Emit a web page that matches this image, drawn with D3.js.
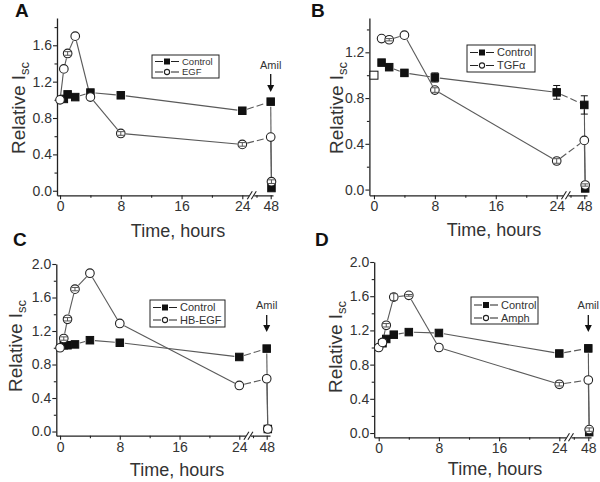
<!DOCTYPE html>
<html><head><meta charset="utf-8">
<script src="https://cdn.jsdelivr.net/npm/d3@7"></script>
<style>
body{margin:0;background:#fff}
svg{display:block}
text{font-family:"Liberation Sans",Arial,Helvetica,sans-serif;font-weight:normal}
</style>
</head><body>
<svg id="chart" width="600" height="482"></svg>
<script>
// ---------------- DATA ----------------
const panelLetters = ["A", "B", "C", "D"];
const controlName = "Control";
const treatmentNames = ["EGF", "TGFα", "HB-EGF", "Amph"];
const xMajorTicks = [0, 8, 16, 24, 48];
const xMinorTicks = [4, 12, 20, 36];
const yMajorTicksA = [0, 0.4, 0.8, 1.2, 1.6];
const yMajorTicksB = [0, 0.4, 0.8, 1.2];
const yMajorTicksCD = [0, 0.4, 0.8, 1.2, 1.6, 2.0];
const amilLabel = "Amil";
// 48.1 = reading taken after amiloride addition at 48 h

// Panel A
const timeControlA = [0.5, 1, 2, 4, 8, 24, 48, 48.1];
const controlA     = [1.01, 1.06, 1.03, 1.08, 1.05, 0.88, 0.98, 0.03];
const errControlA  = [0, 0, 0, 0, 0.02, 0, 0, 0];
const timeEgfA     = [0, 0.5, 1, 2, 4, 8, 24, 48, 48.1];
const egfA         = [1.00, 1.34, 1.51, 1.70, 1.03, 0.63, 0.51, 0.59, 0.10];
const errEgfA      = [0, 0, 0.02, 0, 0, 0.02, 0.02, 0, 0.02];

// Panel B
const timeStartB   = [0];
const startB       = [1.00];
const timeControlB = [1, 2, 4, 8, 24, 48, 48.1];
const controlB     = [1.11, 1.07, 1.02, 0.98, 0.85, 0.74, 0.01];
const errControlB  = [0.01, 0.01, 0.03, 0.04, 0.06, 0.08, 0];
const timeTgfB     = [1, 2, 4, 8, 24, 48, 48.1];
const tgfB         = [1.32, 1.31, 1.35, 0.87, 0.25, 0.43, 0.04];
const errTgfB      = [0, 0.01, 0, 0.02, 0.02, 0, 0.01];

// Panel C
const timeControlC = [0.5, 1, 2, 4, 8, 24, 48, 48.1];
const controlC     = [1.03, 1.03, 1.04, 1.09, 1.06, 0.89, 0.99, 0.03];
const errControlC  = [0, 0, 0, 0, 0.03, 0, 0, 0];
const timeHbC      = [0, 0.5, 1, 2, 4, 8, 24, 48, 48.1];
const hbC          = [1.00, 1.11, 1.34, 1.70, 1.89, 1.29, 0.55, 0.63, 0.03];
const errHbC       = [0, 0.02, 0.02, 0.02, 0, 0, 0, 0, 0];

// Panel D
const timeControlD = [0.5, 1, 2, 4, 8, 24, 48, 48.1];
const controlD     = [1.05, 1.10, 1.15, 1.18, 1.17, 0.93, 0.99, 0.01];
const errControlD  = [0, 0, 0, 0, 0, 0.02, 0.04, 0];
const timeAmphD    = [0, 0.5, 1, 2, 4, 8, 24, 48, 48.1];
const amphD        = [1.00, 1.06, 1.26, 1.59, 1.61, 1.00, 0.57, 0.62, 0.04];
const errAmphD     = [0, 0, 0.02, 0.04, 0.01, 0, 0.02, 0, 0.02];

// ---------------- LAYOUT ----------------
const layouts = [
  {xd:[-0.4,24,48,48.3], xr:[57,242.3,270.7,273], yd:[-0.05,1.9], yr:[195.3,18], yt:yMajorTicksA,
   letter:[15,17], xlab:[178,236.5], ylab:[25,108],
   legend:{x:152,y:55,w:67,h:23,rows:[61.5,72],fs:9.5}, amil:{ty:69,a0:74,a1:92},
   control:[timeControlA,controlA,errControlA], treat:[timeEgfA,egfA,errEgfA]},
  {xd:[-0.6,24,48,48.3], xr:[369.4,556.7,584.3,587], yd:[-0.05,1.5], yr:[195.3,18], yt:yMajorTicksB,
   letter:[311,17], xlab:[494,235.5], ylab:[343,108],
   legend:{x:467,y:45,w:68,h:27,rows:[52.5,65.5],fs:11}, amil:null,
   control:[timeControlB,controlB,errControlB], treat:[timeTgfB,tgfB,errTgfB], start:[timeStartB,startB]},
  {xd:[-0.5,24,48,48.3], xr:[56.3,239.3,266.7,270], yd:[-0.05,2.0], yr:[435.7,264], yt:yMajorTicksCD,
   letter:[13,246], xlab:[177,476], ylab:[21.5,346],
   legend:{x:150,y:300,w:75,h:27,rows:[307.5,320],fs:11}, amil:{ty:309,a0:315,a1:332},
   control:[timeControlC,controlC,errControlC], treat:[timeHbC,hbC,errHbC]},
  {xd:[-0.6,24,48,48.3], xr:[374.2,559.3,588.3,591], yd:[-0.05,2.0], yr:[437.3,262], yt:yMajorTicksCD,
   letter:[315,246], xlab:[495,475], ylab:[341.5,347],
   legend:{x:471,y:297,w:67,h:27,rows:[305,318],fs:11}, amil:{ty:309,a0:315,a1:332},
   control:[timeControlD,controlD,errControlD], treat:[timeAmphD,amphD,errAmphD]}
];

const svg = d3.select("#chart");
const AX = "#222", LN = "#5a5a5a", TX = "#333";

function gappedSegments(g, pts, x, y) {
  for (let i = 0; i < pts.length - 1; i++) {
    const a = pts[i], b = pts[i+1];
    let x1 = x(a.t), y1 = y(a.v), x2 = x(b.t), y2 = y(b.v);
    const dx = x2 - x1, dy = y2 - y1, L = Math.hypot(dx, dy);
    const gap = 5;
    if (L <= 2*gap + 1) continue;
    const ux = dx / L, uy = dy / L;
    g.append("line")
      .attr("x1", x1 + ux*gap).attr("y1", y1 + uy*gap)
      .attr("x2", x2 - ux*gap).attr("y2", y2 - uy*gap)
      .attr("stroke", LN).attr("stroke-width", 1.1)
      .attr("stroke-dasharray", (a.t === 24 && b.t === 48) ? "7,3" : null);
  }
}

function squareMark(g, cx, cy, s, filled) {
  g.append("rect").attr("x", cx - s/2).attr("y", cy - s/2).attr("width", s).attr("height", s)
    .attr("fill", filled ? "#111" : "#fff").attr("stroke", "#111").attr("stroke-width", 1);
}
function circleMark(g, cx, cy, r) {
  g.append("circle").attr("cx", cx).attr("cy", cy).attr("r", r)
    .attr("fill", "#fff").attr("stroke", "#222").attr("stroke-width", 1.1);
}
function errBars(g, pts, x, y, color) {
  pts.forEach(p => {
    if (!p.e) return;
    const cx = x(p.t), y1 = y(p.v - p.e), y2 = y(p.v + p.e);
    g.append("line").attr("x1", cx).attr("x2", cx).attr("y1", y1).attr("y2", y2)
      .attr("stroke", color).attr("stroke-width", 1);
    [y1, y2].forEach(yy => g.append("line").attr("x1", cx - 3.5).attr("x2", cx + 3.5)
      .attr("y1", yy).attr("y2", yy).attr("stroke", color).attr("stroke-width", 1));
  });
}

layouts.forEach((L, i) => {
  const g = svg.append("g");
  const x = d3.scaleLinear().domain(L.xd).range(L.xr);
  const y = d3.scaleLinear().domain(L.yd).range(L.yr);
  const y0 = L.yr[0], x0 = L.xr[0];

  // panel letter
  g.append("text").attr("x", L.letter[0]).attr("y", L.letter[1]).text(panelLetters[i])
    .attr("font-size", 19).style("font-weight", "bold").attr("fill", "#111");

  // y axis
  const yAxis = d3.axisLeft(y).tickValues(L.yt).tickFormat(d3.format(".1f")).tickSize(4).tickPadding(1).tickSizeOuter(0);
  g.append("g").attr("transform", `translate(${x0},0)`).call(yAxis);
  const yMinor = L.yt.map(v => v + 0.2).filter(v => v < L.yd[1]);
  g.append("g").attr("transform", `translate(${x0},0)`)
    .call(d3.axisLeft(y).tickValues(yMinor).tickFormat("").tickSize(2.5).tickSizeOuter(0))
    .call(s => s.select(".domain").remove());

  // x axis
  const xAxis = d3.axisBottom(x).tickValues(xMajorTicks).tickFormat(d3.format("d")).tickSize(4).tickPadding(2).tickSizeOuter(0);
  g.append("g").attr("transform", `translate(0,${y0})`).call(xAxis);
  g.append("g").attr("transform", `translate(0,${y0})`)
    .call(d3.axisBottom(x).tickValues(xMinorTicks).tickFormat("").tickSize(2.5).tickSizeOuter(0))
    .call(s => s.select(".domain").remove());
  g.selectAll(".domain").attr("stroke", AX).attr("stroke-width", 1.3);
  g.selectAll(".tick line").attr("stroke", AX).attr("stroke-width", 1.1);
  g.selectAll(".tick text").attr("font-size", 14).attr("fill", TX)
    .attr("font-family", '"Liberation Sans",Arial,sans-serif');

  // axis break
  const bx = x(32);
  g.append("rect").attr("x", bx - 2.5).attr("y", y0 - 2).attr("width", 5).attr("height", 4).attr("fill", "#fff");
  [-2, 2].forEach(o => g.append("line")
    .attr("x1", bx + o - 2.5).attr("y1", y0 + 4).attr("x2", bx + o + 2.5).attr("y2", y0 - 4)
    .attr("stroke", AX).attr("stroke-width", 1.1));

  // axis titles
  g.append("text").attr("x", L.xlab[0]).attr("y", L.xlab[1]).attr("text-anchor", "middle")
    .attr("font-size", 18).attr("fill", TX).text("Time, hours");
  const yl = g.append("text").attr("transform", `translate(${L.ylab[0]},${L.ylab[1]}) rotate(-90)`)
    .attr("text-anchor", "middle").attr("font-size", 19).attr("fill", TX);
  yl.append("tspan").text("Relative I");
  yl.append("tspan").text("sc").attr("font-size", 13).attr("dy", 4);

  // series
  const cp = L.control[0].map((t, k) => ({t, v: L.control[1][k], e: L.control[2][k]}));
  const tp = L.treat[0].map((t, k) => ({t, v: L.treat[1][k], e: L.treat[2][k]}));
  gappedSegments(g, cp, x, y);
  gappedSegments(g, tp, x, y);
  if (L.start) L.start[0].forEach((t, k) => squareMark(g, x(t), y(L.start[1][k]), 8, false));
  errBars(g, cp, x, y, "#111");
  cp.forEach(p => squareMark(g, x(p.t), y(p.v), 7.5, true));
  tp.forEach(p => circleMark(g, x(p.t), y(p.v), 4.3));
  errBars(g, tp, x, y, "#555");

  // legend
  const lg = L.legend;
  g.append("rect").attr("x", lg.x).attr("y", lg.y).attr("width", lg.w).attr("height", lg.h)
    .attr("fill", "#fff").attr("stroke", "#222").attr("stroke-width", 1);
  [controlName, treatmentNames[i]].forEach((name, k) => {
    const ry = lg.rows[k];
    g.append("line").attr("x1", lg.x + 3).attr("x2", lg.x + 11).attr("y1", ry).attr("y2", ry).attr("stroke", "#222");
    g.append("line").attr("x1", lg.x + 19).attr("x2", lg.x + 27).attr("y1", ry).attr("y2", ry).attr("stroke", "#222");
    if (k === 0) squareMark(g, lg.x + 15, ry, 5, true);
    else circleMark(g, lg.x + 15, ry, 2.6);
    g.append("text").attr("x", lg.x + 30).attr("y", ry + lg.fs*0.36).attr("font-size", lg.fs)
      .attr("fill", TX).text(name);
  });

  // amiloride arrow
  if (L.amil) {
    const ax = x(48);
    g.append("text").attr("x", ax).attr("y", L.amil.ty).attr("text-anchor", "middle")
      .attr("font-size", 11).attr("fill", TX).text(amilLabel);
    g.append("line").attr("x1", ax).attr("x2", ax).attr("y1", L.amil.a0).attr("y2", L.amil.a1 - 5)
      .attr("stroke", "#111").attr("stroke-width", 1.3);
    g.append("path").attr("d", `M${ax-3.5},${L.amil.a1-7}L${ax+3.5},${L.amil.a1-7}L${ax},${L.amil.a1}Z`).attr("fill", "#111");
  }
});
</script>
</body></html>
